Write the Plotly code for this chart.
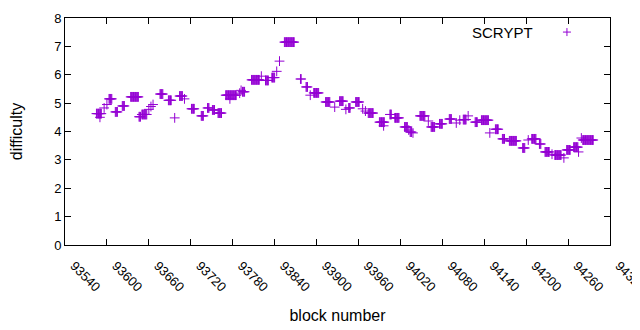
import plotly.graph_objects as go

# Run-length segments: consecutive blocks at one difficulty
seg_start = [93585, 93603, 93612, 93622, 93634, 93646, 93650, 93676, 93688, 93704,
             93721, 93735, 93744, 93751, 93759, 93770, 93794, 93807, 93827, 93836,
             93854, 93877, 93885, 93896, 93913, 93933, 93946, 93956, 93974, 93990,
             94005, 94012, 94026, 94034, 94048, 94064, 94076, 94090, 94110, 94127,
             94136, 94156, 94166, 94176, 94195, 94208, 94219, 94227, 94241, 94258,
             94268, 94281]
seg_end = [93592, 93607, 93615, 93625, 93645, 93648, 93657, 93680, 93692, 93708,
           93725, 93738, 93746, 93754, 93764, 93785, 93797, 93818, 93831, 93840,
           93868, 93878, 93887, 93903, 93919, 93938, 93948, 93961, 93981, 93997,
           94007, 94018, 94030, 94036, 94055, 94069, 94080, 94093, 94114, 94130,
           94146, 94160, 94169, 94186, 94198, 94214, 94221, 94233, 94250, 94263,
           94274, 94296]
seg_diff = [4.63, 5.15, 4.69, 4.90, 5.22, 4.52, 4.60, 5.32, 5.10, 5.25,
            4.80, 4.55, 4.83, 4.76, 4.65, 5.28, 5.40, 5.82, 5.80, 5.90,
            7.15, 5.85, 5.57, 5.36, 5.04, 5.07, 4.83, 5.04, 4.65, 4.33,
            4.60, 4.48, 4.16, 3.98, 4.55, 4.16, 4.27, 4.44, 4.42, 4.33,
            4.40, 4.08, 3.74, 3.67, 3.42, 3.74, 3.56, 3.28, 3.17, 3.35,
            3.45, 3.70]

# Isolated points
pt_block = [93590, 93596, 93600, 93660, 93663, 93666, 93697, 93711, 93776, 93790,
            93792, 93821, 93843, 93847, 93891, 93926, 93942, 93966, 93970, 93996,
            94032, 94038, 94060, 94100, 94105, 94117, 94148, 94203, 94237, 94254,
            94275, 94279]
pt_diff = [4.50, 4.83, 4.95, 4.78, 4.88, 4.95, 4.48, 5.15, 5.15, 5.35,
           5.45, 5.95, 6.12, 6.48, 5.28, 4.86, 4.78, 4.80, 4.72, 4.20,
           4.05, 3.95, 4.37, 4.30, 4.40, 4.55, 3.95, 3.70, 3.20, 3.07,
           3.28, 3.77]

x_ticks = [93540, 93600, 93660, 93720, 93780, 93840, 93900, 93960, 94020,
           94080, 94140, 94200, 94260, 94320]
y_ticks = [0, 1, 2, 3, 4, 5, 6, 7, 8]

xs, ys = [], []
for s, e, d in zip(seg_start, seg_end, seg_diff):
    for b in range(s, e + 1):
        xs.append(b)
        ys.append(d)
xs += pt_block
ys += pt_diff

COLOR = "#9400D3"
FONT = "Liberation Sans"
FS = 13

fig = go.Figure()
fig.add_trace(go.Scatter(
    x=xs, y=ys, mode="markers", name="SCRYPT", showlegend=False,
    marker=dict(symbol="cross-thin", size=7, color=COLOR,
                line=dict(color=COLOR, width=1)),
))

axis_common = dict(showgrid=False, zeroline=False, showline=True, linecolor="black",
                   linewidth=1, mirror="ticks", ticks="inside", ticklen=6,
                   tickcolor="black", automargin=False,
                   tickfont=dict(family=FONT, size=FS, color="black"))

# page body adds an 8px offset, so the figure is 8px smaller than the window
fig.update_layout(
    width=632, height=322,
    margin=dict(l=57, r=30, t=10, b=85),
    paper_bgcolor="white", plot_bgcolor="white",
    font=dict(family=FONT, size=FS, color="black"),
    xaxis=dict(range=[93540, 94320], tickvals=x_ticks,
               ticktext=[str(v) for v in x_ticks], tickangle=45,
               ticklabeloverflow="allow", ticklabelstandoff=7, ticklabelshift=9,
               title=dict(text="block number", standoff=16), **axis_common),
    yaxis=dict(range=[0, 8], tickvals=y_ticks, ticktext=[str(v) for v in y_ticks],
               title=dict(text="difficulty", standoff=27), **axis_common),
)

# gnuplot-style key: text then sample marker
fig.add_annotation(xref="paper", yref="paper", x=0.862, y=0.938, text="SCRYPT",
                   showarrow=False, xanchor="right", yanchor="middle",
                   font=dict(family=FONT, size=15, color="black"))
cx, cy = 0.921, 0.938
dx, dy = 4 / 545, 4 / 227
fig.add_shape(type="line", xref="paper", yref="paper", x0=cx - dx, x1=cx + dx,
              y0=cy, y1=cy, line=dict(color=COLOR, width=1))
fig.add_shape(type="line", xref="paper", yref="paper", x0=cx, x1=cx,
              y0=cy - dy, y1=cy + dy, line=dict(color=COLOR, width=1))

fig.write_html("out.html")
